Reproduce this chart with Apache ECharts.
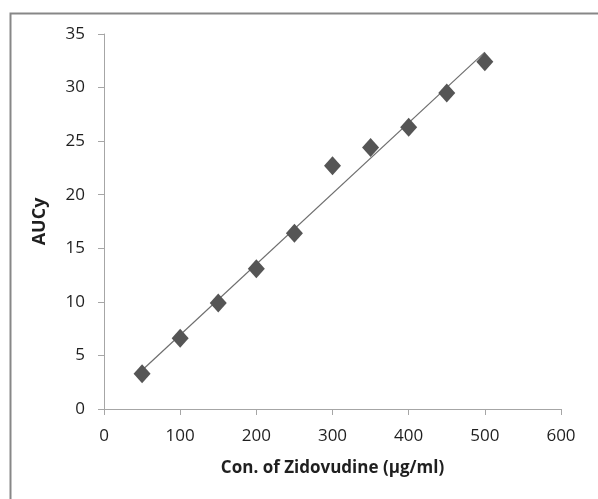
<!DOCTYPE html>
<html>
<head>
<meta charset="utf-8">
<script src="https://cdn.jsdelivr.net/npm/echarts@6/dist/echarts.min.js"></script>
<style>
  html, body { margin: 0; padding: 0; background: #fff; }
  #chart { width: 598px; height: 499px; }
</style>
</head>
<body>
<div id="chart"></div>
<script>
// Calibration data: concentration vs. AUC
const concentrations = [50, 100, 150, 200, 250, 300, 350, 400, 450, 500];
const aucValues = [3.3, 6.6, 9.9, 13.1, 16.4, 22.7, 24.4, 26.3, 29.5, 32.4];
const xTicks = [0, 100, 200, 300, 400, 500, 600];
const yTicks = [0, 5, 10, 15, 20, 25, 30, 35];

// Least-squares linear trendline over the measured range
function linearFit(xs, ys) {
  const n = xs.length;
  const mx = xs.reduce((a, b) => a + b, 0) / n;
  const my = ys.reduce((a, b) => a + b, 0) / n;
  let sxy = 0, sxx = 0;
  for (let i = 0; i < n; i++) {
    sxy += (xs[i] - mx) * (ys[i] - my);
    sxx += (xs[i] - mx) * (xs[i] - mx);
  }
  const slope = sxy / sxx;
  return { slope, intercept: my - slope * mx };
}
const fit = linearFit(concentrations, aucValues);
const xFirst = concentrations[0];
const xLast = concentrations[concentrations.length - 1];
const trendPoints = [
  [xFirst, fit.intercept + fit.slope * xFirst],
  [xLast, fit.intercept + fit.slope * xLast]
];

const points = concentrations.map((c, i) => [c, aucValues[i]]);

const fontFamily = '"Open Sans", "DejaVu Sans", sans-serif';
const axisColor = '#a6a6a6';
const textColor = '#1f1f1f';

const chart = echarts.init(document.getElementById('chart'), null, { renderer: 'canvas' });
chart.setOption({
  backgroundColor: '#ffffff',
  animation: false,
  graphic: [{
    type: 'rect',
    left: 8, top: 11,
    shape: { x: 0, y: 0, width: 620, height: 520 },
    style: { fill: 'none', stroke: '#878787', lineWidth: 2 },
    silent: true
  }],
  grid: { left: 104, top: 34, right: 37, bottom: 90, containLabel: false },
  xAxis: {
    type: 'value',
    min: xTicks[0],
    max: xTicks[xTicks.length - 1],
    interval: xTicks[1] - xTicks[0],
    name: 'Con. of Zidovudine (μg/ml)',
    nameLocation: 'middle',
    nameGap: 51,
    nameTextStyle: { fontFamily, fontSize: 17, fontWeight: 'bold', color: textColor },
    axisLine: { show: true, onZero: false, lineStyle: { color: axisColor, width: 1 } },
    axisTick: { show: true, inside: false, length: 6, lineStyle: { color: axisColor } },
    axisLabel: { fontFamily, fontSize: 17, color: textColor, margin: 19 },
    splitLine: { show: false }
  },
  yAxis: {
    type: 'value',
    min: yTicks[0],
    max: yTicks[yTicks.length - 1],
    interval: yTicks[1] - yTicks[0],
    name: 'AUCy',
    nameLocation: 'middle',
    nameGap: 55,
    nameRotate: 90,
    nameTextStyle: { fontFamily, fontSize: 18, fontWeight: 'bold', color: textColor },
    axisLine: { show: true, onZero: false, lineStyle: { color: axisColor, width: 1 } },
    axisTick: { show: true, inside: false, length: 6, lineStyle: { color: axisColor } },
    axisLabel: { fontFamily, fontSize: 17, color: textColor, margin: 19 },
    splitLine: { show: false }
  },
  series: [
    {
      name: 'Trendline',
      type: 'line',
      data: trendPoints,
      symbol: 'none',
      lineStyle: { color: '#6e6e6e', width: 1.2 },
      z: 2
    },
    {
      name: 'AUCy',
      type: 'scatter',
      data: points,
      symbol: 'diamond',
      symbolSize: [17, 19],
      itemStyle: { color: '#555555', opacity: 1 },
      z: 3
    }
  ]
});
</script>
</body>
</html>
